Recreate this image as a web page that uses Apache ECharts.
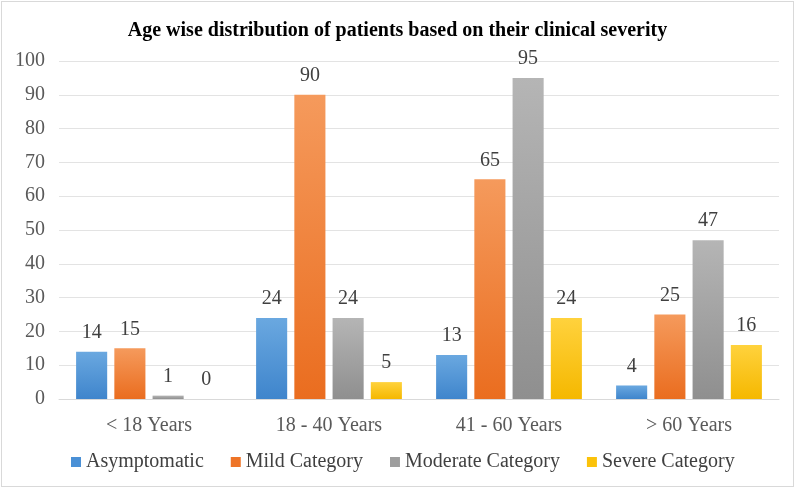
<!DOCTYPE html>
<html><head><meta charset="utf-8">
<script src="https://cdn.jsdelivr.net/npm/echarts@6/dist/echarts.min.js"></script>
<style>html,body{margin:0;padding:0;background:#fff}
#c{position:absolute;left:1px;top:1px;width:791px;height:484px;border:1px solid #d9d9d9;box-sizing:content-box}</style>
</head><body><div id="c"></div>
<script>
const categories = ['< 18 Years', '18 - 40 Years', '41 - 60 Years', '> 60 Years'];
const seriesNames = ['Asymptomatic', 'Mild Category', 'Moderate Category', 'Severe Category'];
const asymptomatic = [14, 24, 13, 4];
const mild = [15, 90, 65, 25];
const moderate = [1, 24, 95, 47];
const severe = [0, 5, 24, 16];
const yTicks = [0, 10, 20, 30, 40, 50, 60, 70, 80, 90, 100];

const colors = [['#6aa8e0', '#3f85cc'], ['#f59a5c', '#ea6d1f'], ['#b5b5b5', '#8f8f8f'], ['#ffd23d', '#f5b800']];
const legendColors = ['#4a90d6', '#ee7427', '#9e9e9e', '#fbc20a'];
const values = [asymptomatic, mild, moderate, severe];
const font = '"Liberation Serif", "Times New Roman", serif';

const chart = echarts.init(document.getElementById('c'));
chart.setOption({
  animation: false,
  title: {
    text: 'Age wise distribution of patients based on their clinical severity',
    left: 'center', top: 14,
    textStyle: {fontFamily: font, fontWeight: 'bold', fontSize: 20, color: '#000'}
  },
  grid: {left: 57, right: 14, top: 59, bottom: 87},
  legend: {
    bottom: 9, left: 64, itemWidth: 10, itemHeight: 10, itemGap: 27,
    icon: 'rect',
    textStyle: {fontFamily: font, fontSize: 20, color: '#404040'},
    data: seriesNames.map((n, i) => ({name: n, itemStyle: {color: legendColors[i]}}))
  },
  xAxis: {
    type: 'category', data: categories,
    axisLine: {lineStyle: {color: '#d9d9d9'}},
    axisTick: {show: false},
    axisLabel: {fontFamily: font, fontSize: 20, color: '#595959', margin: 17}
  },
  yAxis: {
    type: 'value', min: 0, max: 100, interval: 10,
    axisLine: {show: false}, axisTick: {show: false},
    splitLine: {lineStyle: {color: '#e3e3e3'}},
    axisLabel: {fontFamily: font, fontSize: 20, color: '#595959', margin: 14,
      formatter: v => yTicks.includes(v) ? String(v) : ''}
  },
  series: values.map((d, i) => ({
    name: seriesNames[i], type: 'bar', data: d,
    barGap: '23%', barCategoryGap: '19%',
    itemStyle: {color: new echarts.graphic.LinearGradient(0, 0, 0, 1, [
      {offset: 0, color: colors[i][0]}, {offset: 1, color: colors[i][1]}])},
    label: {show: true, position: 'top', distance: 9,
      fontFamily: font, fontSize: 20, color: '#404040'}
  }))
});
</script></body></html>
